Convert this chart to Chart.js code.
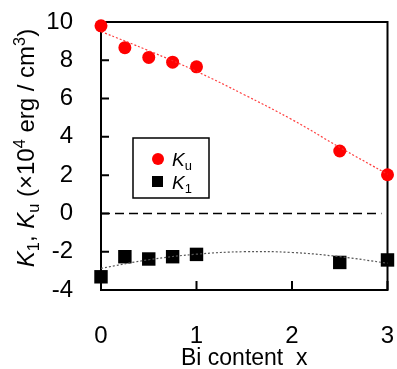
<!DOCTYPE html>
<html>
<head>
<meta charset="utf-8">
<script src="https://cdn.jsdelivr.net/npm/chart.js@4.4.0/dist/chart.umd.min.js"></script>
<style>
  body { margin: 0; background: #fff; }
  #wrap { width: 397px; height: 369px; }
</style>
</head>
<body>
<div id="wrap"><canvas id="myChart"></canvas></div>
<script>
// Data
const biContent = [0, 0.25, 0.5, 0.75, 1, 2.5, 3];
const kuValues = [9.8, 8.66, 8.15, 7.9, 7.66, 3.26, 2.02];
const k1Values = [-3.31, -2.26, -2.38, -2.26, -2.14, -2.56, -2.43];

// dotted guide curves
const fitX = [0, 0.5, 1, 1.5, 2, 2.5, 3];
const kuFit = [9.5, 8.5, 7.42, 6.2, 4.9, 3.45, 2.05];
const k1Fit = [-2.87, -2.42, -2.13, -2.0, -2.04, -2.26, -2.6];

const xTicks = [0, 1, 2, 3];
const yTicks = [-4, -2, 0, 2, 4, 6, 8, 10];

const FONT = '"Liberation Sans", Arial, sans-serif';

const pts = (xs, ys) => xs.map((x, i) => ({ x: x, y: ys[i] }));

// frame, inner ticks, zero line
const framePlugin = {
    id: 'frame',
    beforeDatasetsDraw(chart) {
        const { ctx, chartArea: a, scales } = chart;
        ctx.save();
        ctx.strokeStyle = '#000';
        ctx.lineWidth = 2;
        ctx.strokeRect(a.left, a.top, a.right - a.left, a.bottom - a.top);
        ctx.beginPath();
        yTicks.forEach(v => {
            const y = scales.y.getPixelForValue(v);
            ctx.moveTo(a.left, y);
            ctx.lineTo(a.left + 8, y);
        });
        xTicks.forEach(v => {
            const x = scales.x.getPixelForValue(v);
            ctx.moveTo(x, a.bottom);
            ctx.lineTo(x, a.bottom - 9);
        });
        ctx.stroke();
        // zero line
        const y0 = scales.y.getPixelForValue(0);
        ctx.lineWidth = 1.5;
        ctx.setLineDash([9, 5]);
        ctx.beginPath();
        ctx.moveTo(a.left, y0);
        ctx.lineTo(a.right - 6, y0);
        ctx.stroke();
        ctx.restore();
    }
};

// draws a run of text pieces with italics, sub- and superscripts
function drawRich(ctx, parts, x, y, size) {
    let cx = x;
    parts.forEach(p => {
        let s = size, dy = 0, style = '';
        if (p[1] === 'i') style = 'italic ';
        if (p[1] === 'sub') { s = size * 0.68; dy = size * 0.22; }
        if (p[1] === 'sup') { s = size * 0.68; dy = -size * 0.38; }
        ctx.font = style + s + 'px ' + FONT;
        ctx.fillText(p[0], cx, y + dy);
        cx += ctx.measureText(p[0]).width;
    });
}

function richWidth(ctx, parts, size) {
    let w = 0;
    parts.forEach(p => {
        let s = size, style = '';
        if (p[1] === 'i') style = 'italic ';
        if (p[1] === 'sub' || p[1] === 'sup') s = size * 0.68;
        ctx.font = style + s + 'px ' + FONT;
        w += ctx.measureText(p[0]).width;
    });
    return w;
}

const titleParts = [
    ['K', 'i'], ['1', 'sub'], [', ', 'n'], ['K', 'i'], ['u', 'sub'],
    [' (\u00d710', 'n'], ['4', 'sup'], [' erg / cm', 'n'], ['3', 'sup'], [')', 'n']
];

const textPlugin = {
    id: 'texts',
    afterDraw(chart) {
        const { ctx, chartArea: a, scales } = chart;
        ctx.save();
        ctx.fillStyle = '#000';
        ctx.textBaseline = 'alphabetic';

        // x tick labels and title
        ctx.textAlign = 'center';
        ctx.font = '24px ' + FONT;
        xTicks.forEach(v => {
            ctx.fillText(String(v), scales.x.getPixelForValue(v), a.bottom + 53);
        });
        ctx.font = '23px ' + FONT;
        ctx.fillText('Bi content  x', (a.left + a.right) / 2, 365);

        ctx.textAlign = 'left';
        // y axis title
        const size = 24;
        const w = richWidth(ctx, titleParts, size);
        ctx.save();
        ctx.translate(34, (a.top + a.bottom) / 2 - 8);
        ctx.rotate(-Math.PI / 2);
        drawRich(ctx, titleParts, -w / 2, 0, size);
        ctx.restore();

        // legend box
        ctx.lineWidth = 1.5;
        ctx.strokeStyle = '#000';
        ctx.strokeRect(133, 138, 76, 60);
        ctx.fillStyle = 'red';
        ctx.beginPath();
        ctx.arc(158, 159, 6, 0, Math.PI * 2);
        ctx.fill();
        ctx.fillStyle = '#000';
        ctx.fillRect(152, 176, 11, 11);
        drawRich(ctx, [['K', 'i'], ['u', 'sub']], 172, 166, 19);
        drawRich(ctx, [['K', 'i'], ['1', 'sub']], 172, 189, 19);
        ctx.restore();
    }
};

const ctx = document.getElementById('myChart').getContext('2d');

const myChart = new Chart(ctx, {
    type: 'scatter',
    data: {
        datasets: [
            {
                label: 'Ku fit',
                data: pts(fitX, kuFit),
                showLine: true,
                borderColor: 'rgba(255, 40, 40, 0.9)',
                borderWidth: 1.2,
                borderDash: [2, 2],
                pointRadius: 0,
                tension: 0.4,
                clip: false
            },
            {
                label: 'K1 fit',
                data: pts(fitX, k1Fit),
                showLine: true,
                borderColor: '#555',
                borderWidth: 1.2,
                borderDash: [2, 2],
                pointRadius: 0,
                tension: 0.4,
                clip: false
            },
            {
                label: 'Ku',
                data: pts(biContent, kuValues),
                pointStyle: 'circle',
                pointRadius: 6.5,
                backgroundColor: 'red',
                borderColor: 'red',
                borderWidth: 0,
                clip: false
            },
            {
                label: 'K1',
                data: pts(biContent, k1Values),
                pointStyle: 'rect',
                pointRadius: 9.5,
                backgroundColor: '#000',
                borderColor: '#000',
                borderWidth: 0,
                clip: false
            }
        ]
    },
    options: {
        responsive: true,
        maintainAspectRatio: false,
        animation: false,
        layout: { padding: { top: 22, right: 8, left: 0, bottom: 0 } },
        plugins: {
            legend: { display: false },
            tooltip: { enabled: false }
        },
        scales: {
            x: {
                type: 'linear',
                min: 0,
                max: 3,
                afterFit(scale) {
                    scale.height = 79;
                    scale.paddingLeft = 0;
                    scale.paddingRight = 0;
                },
                afterBuildTicks(scale) { scale.ticks = xTicks.map(v => ({ value: v })); },
                grid: { display: false, drawTicks: false },
                border: { display: false },
                ticks: { display: false }
            },
            y: {
                min: -4,
                max: 10,
                afterFit(scale) {
                    scale.width = 101;
                    scale.paddingTop = 0;
                    scale.paddingBottom = 0;
                },
                afterBuildTicks(scale) { scale.ticks = yTicks.map(v => ({ value: v })); },
                grid: { display: false, drawTicks: false },
                border: { display: false },
                ticks: {
                    padding: 28,
                    color: '#000',
                    font: { family: FONT, size: 24 }
                }
            }
        }
    },
    plugins: [framePlugin, textPlugin]
});
</script>
</body>
</html>
